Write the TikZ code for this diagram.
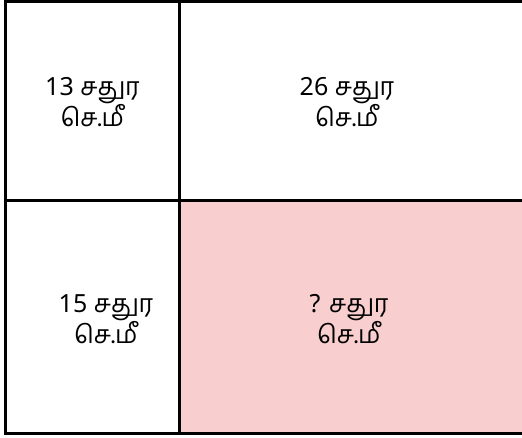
\documentclass[tikz,border=0pt]{standalone}
\usepackage{fontspec}
\setmainfont{Noto Sans}
\newfontfamily\tamil[Script=Tamil]{Hind Madurai}
\definecolor{cellpink}{RGB}{248,206,207}
\begin{document}
\begin{tikzpicture}[x=1pt,y=1pt,
  gridline/.style={line width=3.6pt,black},
  celltext/.style={align=center,font=\fontsize{25}{29}\selectfont,inner sep=0pt}]
\useasboundingbox (0,0) rectangle (522,438);
\fill[cellpink] (179.5,237.5) rectangle (530,4.3);
\draw[gridline] (530,436.7) -- (5.5,436.7) -- (5.5,4.3) -- (530,4.3);
\draw[gridline] (179.5,436.7) -- (179.5,4.3);
\draw[gridline] (5.5,237.5) -- (530,237.5);
\node[celltext] (c1) at (92.5,336) {13 {\tamil சதுர}\\{\tamil செ.மீ}};
\node[celltext] (c2) at (347,336) {26 {\tamil சதுர}\\{\tamil செ.மீ}};
\node[celltext] (c3) at (106,119) {15 {\tamil சதுர}\\{\tamil செ.மீ}};
\node[celltext] (c4) at (349,119) {? {\tamil சதுர}\\{\tamil செ.மீ}};
\end{tikzpicture}
\end{document}
